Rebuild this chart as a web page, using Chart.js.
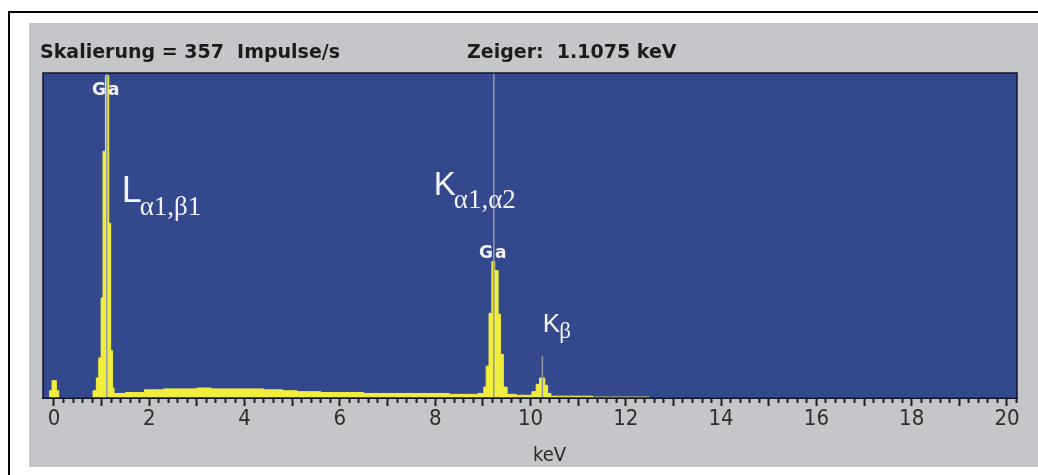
<!DOCTYPE html>
<html>
<head>
<meta charset="utf-8">
<script src="https://cdn.jsdelivr.net/npm/chart.js@4.4.1/dist/chart.umd.min.js"></script>
<style>
  html, body { margin: 0; padding: 0; background: #ffffff; width: 1038px; height: 475px; overflow: hidden; }
  #frame { position: absolute; left: 8px; top: 11px; width: 1040px; height: 480px;
           border-top: 2px solid #000; border-left: 2px solid #000; }
  #panel { position: absolute; left: 29px; top: 23px; width: 1009px; height: 444px; background: #c4c6c9; }
  #panel canvas { position: absolute; left: 0; top: 0; }
  .hdr { position: absolute; font-family: "DejaVu Sans", sans-serif; font-weight: bold; font-size: 19px;
         line-height: 19px; color: #1c1c1c; white-space: pre; }
</style>
</head>
<body>
<div id="frame"></div>
<div id="panel">
  <canvas id="c" width="1009" height="444"></canvas>
  <div class="hdr" style="left:11px; top:19px;">Skalierung = 357  Impulse/s</div>
  <div class="hdr" style="left:438px; top:19px;">Zeiger:  1.1075 keV</div>
</div>
<script>
// ---- data ----
// spectrum bins: each energy is the start of a channel group, value = pulses
const energies = [-0.23, -0.09, -0.04, 0.05, 0.10, 0.82, 0.89, 0.94, 0.99, 1.03,
                  1.08, 1.15, 1.19, 1.23, 1.26, 1.50, 1.90, 2.30, 3.00, 3.30,
                  3.90, 4.40, 4.80, 5.10, 5.60, 6.20, 6.50, 7.00, 7.60, 8.30,
                  8.90, 9.02, 9.07, 9.13, 9.19, 9.25, 9.32, 9.37, 9.43, 9.51,
                  9.70, 10.03, 10.12, 10.19, 10.30, 10.36, 10.43, 11.30, 12.50, 20.21];
const counts   = [0, 8, 19, 8, 0, 8, 22, 44, 110, 271,
                  354, 192, 52, 11, 5, 6, 9, 10, 11, 10,
                  10, 9, 8, 7, 6, 6, 5, 5, 5, 4,
                  5, 12, 35, 93, 150, 140, 92, 48, 12, 4,
                  3, 7, 15, 22, 14, 5, 2, 1, 0, 0];
// marker lines (cursor "Zeiger" and Ga line markers)
const markerEnergies = [1.1075, 9.23, 10.25];
const markerHeights  = [357, 357, 46];
// axis
const xMin = -0.23, xMax = 20.21, yMax = 357;
const tickLabelValues = [0, 2, 4, 6, 8, 10, 12, 14, 16, 18, 20];
const axisTitle = 'keV';
// annotations (text, anchor energy, anchor pulses)
const peakLabels = [
  { main: 'Ga', sub: '', e: 1.1075, v: 338 },
  { main: 'Ga', sub: '', e: 9.23, v: 159 }
];
const lineLabels = [
  { main: 'L', sub: 'α1,β1', e: 1.42, v: 215 },
  { main: 'K', sub: 'α1,α2', e: 7.97, v: 223 },
  { main: 'K', sub: 'β', e: 10.26, v: 72 }
];

const spectrum = energies.map((e, i) => ({ x: e, y: counts[i] }));

const BLUE = '#34488e';
const YELLOW = '#f1ed3c';

const isInt = v => Math.abs(v - Math.round(v)) < 1e-6;

const plotPlugin = {
  id: 'plotBg',
  beforeDraw(chart) {
    const { ctx, chartArea: a } = chart;
    ctx.save();
    ctx.fillStyle = BLUE;
    ctx.fillRect(a.left, a.top, a.right - a.left, a.bottom - a.top);
    ctx.restore();
  },
  afterDatasetsDraw(chart) {
    const { ctx, chartArea: a, scales } = chart;
    const xs = scales.x, ys = scales.y;
    ctx.save();
    // frame of plot area
    ctx.strokeStyle = '#14162a';
    ctx.lineWidth = 1.5;
    ctx.strokeRect(a.left, a.top, a.right - a.left, a.bottom - a.top);
    ctx.fillStyle = '#f3f3f7';
    // Ga labels
    ctx.font = 'bold 17px "DejaVu Sans"';
    ctx.textAlign = 'center';
    ctx.textBaseline = 'middle';
    if ('letterSpacing' in ctx) ctx.letterSpacing = '2px';
    peakLabels.forEach(l => {
      ctx.fillText(l.main, xs.getPixelForValue(l.e), ys.getPixelForValue(l.v));
    });
    if ('letterSpacing' in ctx) ctx.letterSpacing = '0px';
    // line labels with subscripts
    ctx.textAlign = 'left';
    ctx.textBaseline = 'alphabetic';
    lineLabels.forEach((l, i) => {
      const small = l.sub === 'β';
      const px = xs.getPixelForValue(l.e);
      const py = ys.getPixelForValue(l.v);
      ctx.font = (small ? '26px' : (l.main === 'L' ? '36px' : '33px')) + ' "Liberation Sans"';
      ctx.fillText(l.main, px, py);
      const w = ctx.measureText(l.main).width;
      ctx.font = (small ? '23px' : '27px') + ' "Liberation Serif"';
      ctx.fillText(l.sub, px + w - (small ? 1 : 2), py + (small ? 6 : 13));
    });
    ctx.restore();
  },
  afterDraw(chart) {
    const { ctx, chartArea: a, scales } = chart;
    ctx.save();
    ctx.fillStyle = '#2a2a2a';
    ctx.font = '20px "Liberation Sans Narrow", "DejaVu Sans Condensed", sans-serif';
    ctx.textAlign = 'center';
    ctx.textBaseline = 'alphabetic';
    ctx.fillText(axisTitle, scales.x.getPixelForValue(10.4), a.bottom + 63);
    ctx.restore();
  }
};

const datasets = markerEnergies.map((e, i) => ({
  data: [{ x: e, y: 0 }, { x: e, y: markerHeights[i] }],
  borderColor: '#9499a6',
  borderWidth: 1.5,
  pointRadius: 0,
  fill: false,
  order: 1
}));
datasets.push({
  data: spectrum,
  stepped: true,
  fill: 'origin',
  backgroundColor: YELLOW,
  borderColor: YELLOW,
  borderWidth: 1,
  pointRadius: 0,
  order: 2
});

new Chart(document.getElementById('c'), {
  type: 'line',
  data: { datasets },
  options: {
    responsive: false,
    devicePixelRatio: 1,
    animation: false,
    events: [],
    layout: { padding: { left: 14, right: 21, top: 50, bottom: 34.6 } },
    plugins: { legend: { display: false }, tooltip: { enabled: false } },
    scales: {
      x: {
        type: 'linear',
        min: xMin, max: xMax,
        border: { display: true, color: '#15151f', width: 2 },
        grid: {
          drawOnChartArea: false,
          drawTicks: true,
          tickLength: 8,
          tickWidth: 2,
          tickColor: c => (c.tick && c.tick.value < -1e-6) ? 'rgba(0,0,0,0)' : '#1e1e1e',
          tickBorderDash: c => (c.tick && isInt(c.tick.value)) ? [] : [4, 40]
        },
        ticks: {
          stepSize: 0.2,
          autoSkip: false,
          includeBounds: false,
          maxRotation: 0,
          minRotation: 0,
          padding: 0,
          color: '#2e2e2e',
          font: { family: '"Liberation Sans Narrow", "DejaVu Sans Condensed", sans-serif', size: 22 },
          callback: v => {
            const r = Math.round(v);
            return (isInt(v) && tickLabelValues.includes(r)) ? String(r) : '';
          }
        }
      },
      y: { display: false, min: 0, max: yMax }
    }
  },
  plugins: [plotPlugin]
});
</script>
</body>
</html>
